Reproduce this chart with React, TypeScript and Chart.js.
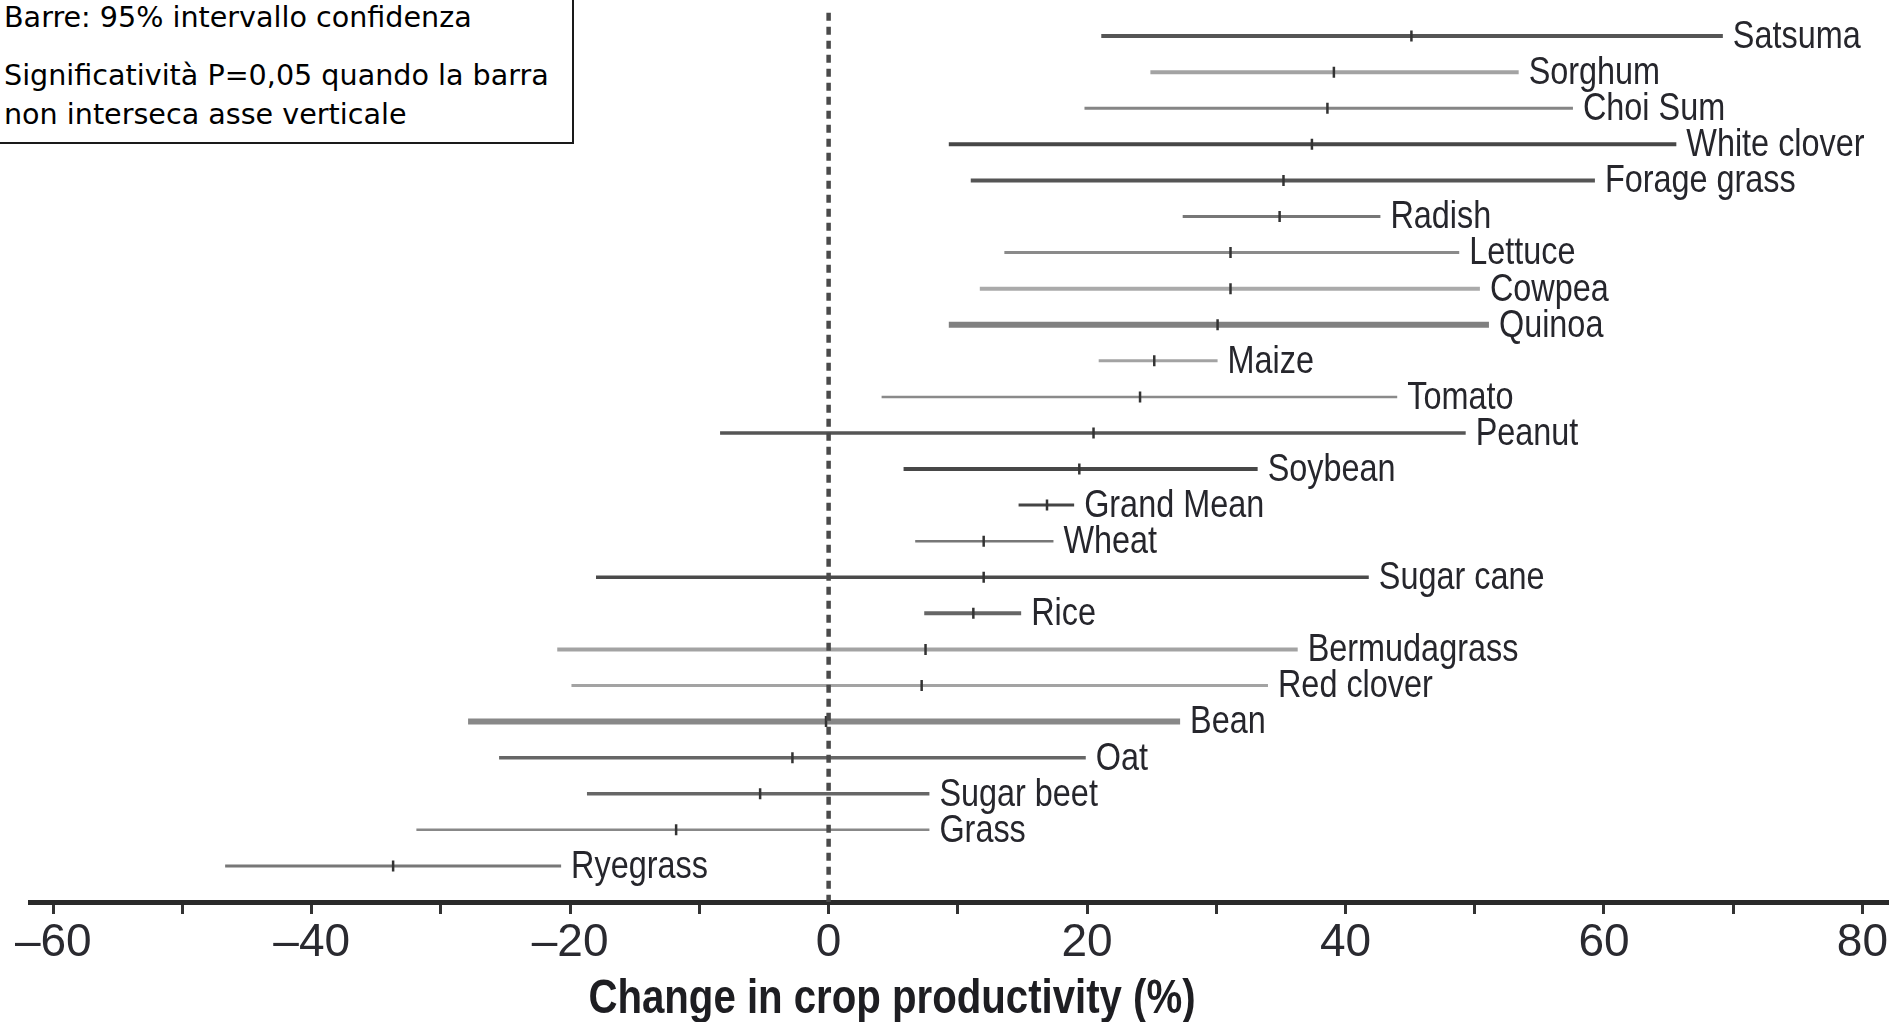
import React, { useEffect, useRef } from 'react';
import { Chart, registerables } from 'chart.js';

Chart.register(...registerables);

// ---------- data ----------
const CROPS = [
  'Satsuma', 'Sorghum', 'Choi Sum', 'White clover', 'Forage grass', 'Radish',
  'Lettuce', 'Cowpea', 'Quinoa', 'Maize', 'Tomato', 'Peanut', 'Soybean',
  'Grand Mean', 'Wheat', 'Sugar cane', 'Rice', 'Bermudagrass', 'Red clover',
  'Bean', 'Oat', 'Sugar beet', 'Grass', 'Ryegrass',
];
const LOWER = [21.1, 24.9, 19.8, 9.3, 11.0, 27.4, 13.6, 11.7, 9.3, 20.9, 4.1, -8.4, 5.8, 14.7, 6.7, -18.0, 7.4, -21.0, -19.9, -27.9, -25.5, -18.7, -31.9, -46.7];
const MEAN = [45.1, 39.1, 38.6, 37.4, 35.2, 34.9, 31.1, 31.1, 30.1, 25.2, 24.1, 20.5, 19.4, 16.9, 12.0, 12.0, 11.2, 7.5, 7.2, -0.2, -2.8, -5.3, -11.8, -33.7];
const UPPER = [69.2, 53.4, 57.6, 65.6, 59.3, 42.7, 48.8, 50.4, 51.1, 30.1, 44.0, 49.3, 33.2, 19.0, 17.4, 41.8, 14.9, 36.3, 34.0, 27.2, 19.9, 7.8, 7.8, -20.7];

const X_TICKS = [-60, -50, -40, -30, -20, -10, 0, 10, 20, 30, 40, 50, 60, 70, 80];
const X_MIN = -61.8;
const X_MAX = 82;
const Y_MIN = -1;
const Y_MAX = 24;
const ZERO_LINE_Y = [-0.65, 24];

const AXIS_TITLE = 'Change in crop productivity (%)';
const LEGEND_LINES = [
  'Barre: 95% intervallo confidenza',
  'Significatività P=0,05 quando la barra',
  'non interseca asse verticale',
];

// ---------- styles ----------
const BAR_COLORS = [
  '#555555', '#a3a3a3', '#858585', '#474747', '#555555', '#777777',
  '#8a8a8a', '#aaaaaa', '#808080', '#a3a3a3', '#8a8a8a', '#555555', '#474747',
  '#444444', '#777777', '#4a4a4a', '#666666', '#a3a3a3', '#a3a3a3',
  '#888888', '#666666', '#666666', '#888888', '#777777',
];
const BAR_WIDTHS = [4, 4, 3, 4, 4, 3, 3, 4, 6, 3, 2.5, 3.5, 4, 3, 2.5, 3.5, 4, 4, 3, 6, 3.5, 3.5, 2.5, 3];

const SANS = '"Liberation Sans", Arial, sans-serif';
const NARROW_SCALE = 0.82;

function drawNarrow(ctx: CanvasRenderingContext2D, text: string, x: number, y: number, align: 'left' | 'center') {
  ctx.save();
  ctx.translate(x, y);
  ctx.scale(NARROW_SCALE, 1);
  ctx.textAlign = align;
  ctx.fillText(text, 0, 0);
  ctx.restore();
}

const labelPlugin = {
  id: 'cropLabels',
  afterDatasetsDraw(chart: any) {
    const { ctx, scales } = chart;
    const x = scales.x;
    const y = scales.y;
    ctx.save();
    ctx.font = `39.5px ${SANS}`;
    ctx.fillStyle = '#26262c';
    ctx.textBaseline = 'middle';
    CROPS.forEach((name, i) => {
      drawNarrow(ctx, name, x.getPixelForValue(UPPER[i]) + 10, y.getPixelForValue(i) + 1, 'left');
    });
    ctx.font = `bold 49px ${SANS}`;
    ctx.fillStyle = '#1e1e22';
    drawNarrow(ctx, AXIS_TITLE, 892, 999, 'center');
    ctx.restore();
  },
};

export default function App() {
  const ref = useRef<HTMLCanvasElement | null>(null);

  useEffect(() => {
    if (!ref.current) return;
    const rangeSets = CROPS.map((name, i) => ({
      label: name,
      data: [
        { x: LOWER[i], y: i },
        { x: UPPER[i], y: i },
      ],
      showLine: true,
      borderColor: BAR_COLORS[i],
      borderWidth: BAR_WIDTHS[i],
      borderCapStyle: 'butt',
      pointRadius: 0,
      order: 2,
    }));
    const meanSet = {
      label: 'mean',
      data: MEAN.map((m, i) => ({ x: m, y: i })),
      showLine: false,
      pointStyle: 'line',
      rotation: 90,
      pointRadius: 5.5,
      borderWidth: 2.5,
      borderColor: '#333333',
      backgroundColor: '#333333',
      order: 1,
    };
    const zeroSet = {
      label: 'zero',
      data: ZERO_LINE_Y.map((v) => ({ x: 0, y: v })),
      showLine: true,
      borderColor: '#4a4a4a',
      borderWidth: 4.5,
      borderDash: [8, 6],
      pointRadius: 0,
      order: 0,
    };

    const chart = new Chart(ref.current, {
      type: 'scatter',
      data: { datasets: [zeroSet, ...rangeSets, meanSet] as any },
      options: {
        animation: false,
        responsive: false,
        devicePixelRatio: 1,
        events: [],
        layout: { autoPadding: false, padding: { left: 30, right: 0, top: 0, bottom: 50 } },
        plugins: { legend: { display: false }, tooltip: { enabled: false } },
        scales: {
          x: {
            type: 'linear',
            min: X_MIN,
            max: X_MAX,
            afterBuildTicks: (scale: any) => {
              scale.ticks = X_TICKS.map((value) => ({ value }));
            },
            ticks: {
              autoSkip: false,
              maxRotation: 0,
              padding: 6,
              color: '#2a2a30',
              font: { family: SANS, size: 46, lineHeight: 1 },
              callback: (v: any) => {
                const n = Number(v);
                if (n % 20 !== 0) return '';
                return n < 0 ? '\u2013' + Math.abs(n) : String(n);
              },
            },
            grid: {
              display: true,
              drawOnChartArea: false,
              drawTicks: true,
              tickLength: 12,
              tickWidth: 3,
              tickColor: '#333333',
            },
            border: { display: true, width: 5, color: '#2a2a2a' },
          },
          y: {
            type: 'linear',
            reverse: true,
            min: Y_MIN,
            max: Y_MAX,
            display: false,
          },
        },
      },
      plugins: [labelPlugin],
    } as any);
    return () => chart.destroy();
  }, []);

  return (
    <div style={{ position: 'absolute', left: 0, top: 0, width: 1894, height: 1022, background: '#fff', overflow: 'hidden' }}>
      <canvas ref={ref} width={1894} height={1022} style={{ position: 'absolute', left: 0, top: 0, width: 1894, height: 1022 }} />
      <div
        style={{
          position: 'absolute', left: -2, top: -2, width: 576, height: 146, boxSizing: 'border-box',
          border: '2px solid #1a1a1a', background: '#fff', color: '#000',
          fontFamily: '"DejaVu Sans", Verdana, sans-serif', fontSize: 28.6,
        }}
      >
        <div style={{ position: 'absolute', left: 4, top: 0, lineHeight: '34px', whiteSpace: 'nowrap' }}>{LEGEND_LINES[0]}</div>
        <div style={{ position: 'absolute', left: 4, top: 55.5, lineHeight: '39px', whiteSpace: 'nowrap' }}>{LEGEND_LINES[1]}</div>
        <div style={{ position: 'absolute', left: 4, top: 94.5, lineHeight: '39px', whiteSpace: 'nowrap' }}>{LEGEND_LINES[2]}</div>
      </div>
    </div>
  );
}
